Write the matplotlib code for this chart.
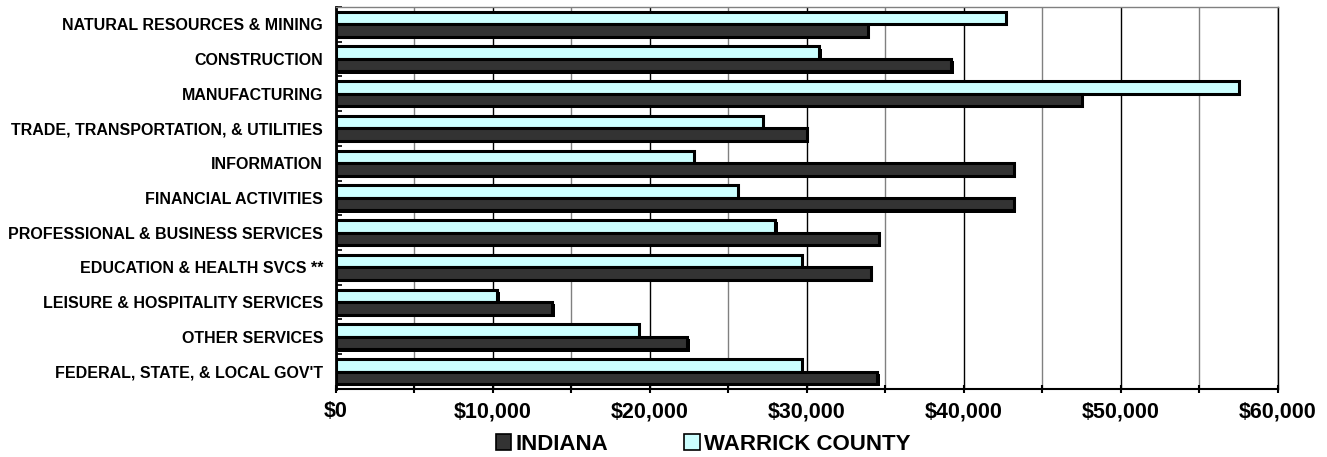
import matplotlib
matplotlib.use("Agg")
import matplotlib.pyplot as plt
import matplotlib.patheffects as pe
from matplotlib.patches import Patch
from matplotlib.ticker import MultipleLocator, FuncFormatter
import numpy as np

plt.rcParams['font.family'] = ['Liberation Sans', 'DejaVu Sans']
plt.rcParams['font.weight'] = 'bold'

categories = ["NATURAL RESOURCES & MINING", "CONSTRUCTION", "MANUFACTURING",
              "TRADE, TRANSPORTATION, & UTILITIES", "INFORMATION",
              "FINANCIAL ACTIVITIES", "PROFESSIONAL & BUSINESS SERVICES",
              "EDUCATION & HEALTH SVCS **", "LEISURE & HOSPITALITY SERVICES",
              "OTHER SERVICES", "FEDERAL, STATE, & LOCAL GOV'T"]
indiana = [33900, 39200, 47500, 30000, 43200, 43200, 34600, 34100, 13800, 22400, 34500]
warrick = [42700, 30800, 57500, 27200, 22800, 25600, 28000, 29700, 10300, 19300, 29700]

dark = "#333333"
cyan = "#CCFFFF"

fig = plt.figure(figsize=(13.27, 4.57), dpi=100)
ax = fig.add_axes([0.253, 0.149, 0.710, 0.836])

y = np.arange(len(categories))
h = 0.36
shadow = [pe.SimplePatchShadow(offset=(1.6, -1.6), shadow_rgbFace="black", alpha=1.0),
          pe.Normal()]
ax.barh(y - h / 2, warrick, height=h, color=cyan, edgecolor="black",
        linewidth=2.2, path_effects=shadow, zorder=3)
ax.barh(y + h / 2, indiana, height=h, color=dark, edgecolor="black",
        linewidth=2.2, path_effects=shadow, zorder=3)

ax.set_xlim(0, 60000)
ax.set_ylim(len(categories) - 0.5, -0.5)

ax.xaxis.set_major_locator(MultipleLocator(10000))
ax.xaxis.set_minor_locator(MultipleLocator(5000))
ax.xaxis.set_major_formatter(FuncFormatter(lambda v, p: "${:,.0f}".format(v)))
ax.tick_params(axis="x", which="both", direction="inout", length=6, width=1.5,
               labelsize=15.5, pad=6)
ax.grid(axis="x", which="major", color="black", linewidth=1)
ax.grid(axis="x", which="minor", color="#808080", linewidth=1)
ax.set_axisbelow(True)

ax.set_yticks(y)
ax.set_yticklabels(categories, fontsize=11.5)
ax.set_yticks(np.arange(len(categories) + 1) - 0.5, minor=True)
ax.tick_params(axis="y", which="major", length=0, pad=9)
ax.tick_params(axis="y", which="minor", direction="in", length=4, width=1.2)

ax.spines["left"].set_linewidth(2)
ax.spines["bottom"].set_linewidth(1.5)
ax.spines["top"].set_color("#808080")
ax.spines["top"].set_linewidth(1)
ax.spines["right"].set_linewidth(1)

handles = [Patch(facecolor=dark, edgecolor="black", linewidth=1.2, label="INDIANA"),
           Patch(facecolor=cyan, edgecolor="black", linewidth=1.2, label="WARRICK COUNTY")]
fig.legend(handles=handles, loc="center", bbox_to_anchor=(0.530, 0.028), ncol=2,
           frameon=False, fontsize=16, handlelength=0.7, handleheight=0.7,
           handletextpad=0.2, columnspacing=3.4, borderpad=0)

fig.savefig("out.png", dpi=100)
